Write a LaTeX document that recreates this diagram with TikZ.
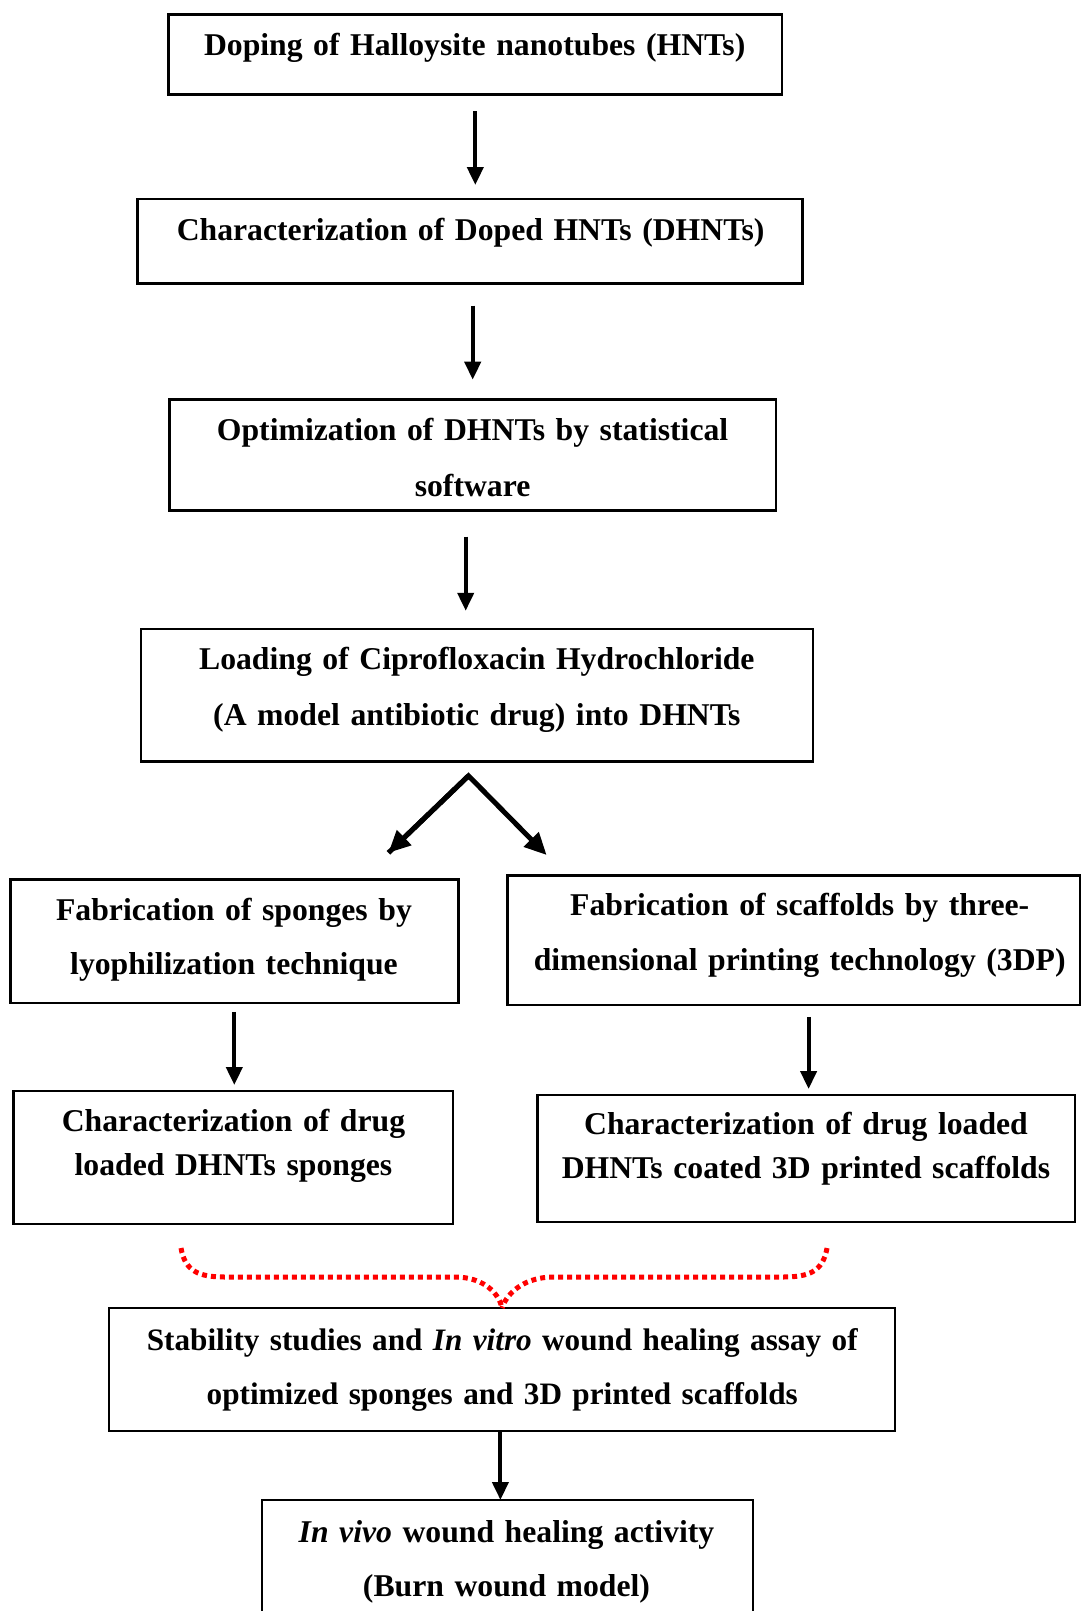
\documentclass[tikz,border=0pt]{standalone}
\usepackage{fontspec}
\setmainfont[WordSpace=0.85]{Liberation Serif}
\usetikzlibrary{arrows.meta,calc}
\begin{document}
\begin{tikzpicture}[x=1pt,y=-1pt,
  box/.style={draw,line width=2.5pt,inner sep=0pt,outer sep=0pt},
  txt/.style={anchor=base,align=center,inner sep=0pt,font=\bfseries\fontsize{31.7}{55.5}\selectfont},
  tight/.style={font=\bfseries\fontsize{31.7}{44}\selectfont},
  arr/.style={line width=4pt,-{Triangle[length=18pt,width=16pt]}},
  farr/.style={line width=5pt,-{Triangle[length=22pt,width=20pt]}},
  brace/.style={red,line width=5pt,dash pattern=on 5pt off 4pt}]
\useasboundingbox (0,0) rectangle (1082,1611);
% boxes
\node[box,minimum width=613.5pt,minimum height=80pt] (b1) at (475.3,54.5) {};
\node[box,minimum width=664.8pt,minimum height=84.6pt] (b2) at (470.1,241.3) {};
\node[box,minimum width=606.3pt,minimum height=111pt] (b3) at (472.7,455.2) {};
\node[box,minimum width=672pt,minimum height=132.6pt] (b4) at (476.8,695.1) {};
\node[box,minimum width=448pt,minimum height=123.3pt] (b5) at (234.3,941.2) {};
\node[box,minimum width=572.4pt,minimum height=129.5pt] (b6) at (793.8,940.2) {};
\node[box,minimum width=439.7pt,minimum height=132.8pt] (b7) at (233.3,1157.4) {};
\node[box,minimum width=537.4pt,minimum height=126.7pt] (b8) at (806.1,1158.4) {};
\node[box,minimum width=786pt,minimum height=123pt] (b9) at (502,1369.5) {};
\node[box,minimum width=491pt,minimum height=130pt] (b10) at (507.5,1565) {};
% texts
\node[txt,text width=600pt] (t1) at (474.7,56) {Doping of Halloysite nanotubes (HNTs)};
\node[txt,text width=650pt] (t2) at (470.6,240) {Characterization of Doped HNTs (DHNTs)};
\node[txt,text width=600pt] (t3) at (472.6,440.5) {Optimization of DHNTs by statistical\\software};
\node[txt,text width=660pt] (t4) at (476.8,669.7) {Loading of Ciprofloxacin Hydrochloride\\(A model antibiotic drug) into DHNTs};
\node[txt,text width=440pt,font=\bfseries\fontsize{31.7}{54.4}\selectfont] (t5) at (234,920.4) {Fabrication of sponges by\\lyophilization technique};
\node[txt,text width=570pt] (t6) at (799.7,915.2) {Fabrication of scaffolds by three-\\dimensional printing technology (3DP)};
\node[txt,tight,text width=430pt] (t7) at (233.5,1131) {Characterization of drug\\loaded DHNTs sponges};
\node[txt,tight,text width=530pt] (t8) at (806,1134) {Characterization of drug loaded\\DHNTs coated 3D printed scaffolds};
\node[txt,text width=780pt,font=\bfseries\fontsize{31.2}{54.3}\selectfont] (t9) at (502.3,1350) {Stability studies and \textit{In vitro} wound healing assay of\\optimized sponges and 3D printed scaffolds};
\node[txt,text width=480pt,font=\bfseries\fontsize{31.7}{54.5}\selectfont] (t10) at (506.5,1542) {\textit{In vivo} wound healing activity\\(Burn wound model)};
% arrows
\draw[arr,shorten <=16.5pt,shorten >=14pt] (b1.south) -- (b1.south |- b2.north);
\draw[arr,shorten <=22pt,shorten >=20pt] (b2.south -| b3.north) -- (b3.north);
\draw[arr,shorten <=26pt,shorten >=18pt] ([xshift=-7pt]b3.south) -- ([xshift=-7pt]b3.south |- b4.north);
\coordinate (apex) at ([xshift=-8.3pt,yshift=-14.4pt]b4.south);
\coordinate (fl) at (388.4,852.8);
\coordinate (fr) at (546.6,855);
\draw[farr,line join=miter] (fl) -- (apex) -- (fr);
\draw[farr] (apex) -- (fl);
\draw[arr,shorten <=9pt,shorten >=6pt] (b5.south) -- (b5.south |- b7.north);
\draw[arr,shorten <=12pt,shorten >=6pt] ([xshift=2.5pt]b8.north |- b6.south) -- ([xshift=2.5pt]b8.north);
\draw[arr] (b9.south -| 500.4,0) -- (b10.north -| 500.4,0);
% red dotted brace
\coordinate (bl) at (181,1248);
\coordinate (br) at (827,1248);
\draw[brace] (bl) .. controls (185,1272) and (200,1277) .. (225,1277) -- (455,1277) .. controls (480,1277) and (498,1290) .. (b9.north);
\draw[brace] (br) .. controls (823,1272) and (808,1277) .. (783,1277) -- (553,1277) .. controls (528,1277) and (508,1290) .. (b9.north);
\end{tikzpicture}
\end{document}
